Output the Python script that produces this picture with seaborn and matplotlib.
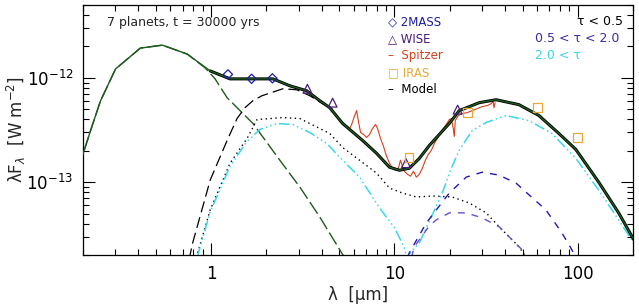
import numpy as np
import pandas as pd
import matplotlib
matplotlib.use("Agg")
import matplotlib.pyplot as plt
import seaborn as sns
from matplotlib.ticker import FixedLocator, FixedFormatter, NullFormatter

# fluxes below are in units of 1e-12 W m^-2
SCALE = 1e-12

# total model
lam_model = [0.19, 0.2014, 0.220, 0.249, 0.301, 0.411, 0.542, 0.741, 0.988, 1.268, 1.630, 2.173,
             2.688, 3.32, 3.91, 4.433, 5.215, 6.699, 7.984, 9.394, 10.64, 12.07, 13.67, 15.50,
             19.90, 22.55, 28.98, 35.84, 47.79, 61.38, 78.8, 97.5, 130.0, 167.0, 196.5, 214.6]
f_model = [0.14, 0.193, 0.313, 0.60, 1.218, 1.93, 2.06, 1.69, 1.166, 0.978, 0.978, 0.978,
           0.839, 0.752, 0.604, 0.518, 0.365, 0.251, 0.189, 0.139, 0.130, 0.136, 0.169, 0.225,
           0.365, 0.485, 0.578, 0.617, 0.553, 0.435, 0.293, 0.206, 0.100, 0.0507, 0.0306, 0.0235]

# stellar photosphere
lam_star = [0.19, 0.2014, 0.220, 0.249, 0.301, 0.411, 0.542, 0.741, 0.928, 1.051, 1.222, 1.438,
            1.691, 2.371, 3.047, 3.91, 5.024, 5.348]
f_star = [0.14, 0.193, 0.313, 0.60, 1.218, 1.93, 2.06, 1.69, 1.245, 0.978, 0.645, 0.485,
          0.365, 0.162, 0.0896, 0.0464, 0.0225, 0.0189]

# tau < 0.5 (long dash) and dotted component
lam_d1 = [0.759, 0.788, 0.988, 1.222, 1.384, 1.530, 1.691, 1.893, 2.462, 2.933, 3.452, 4.061, 4.603]
f_d1 = [0.0181, 0.0251, 0.1045, 0.251, 0.407, 0.518, 0.604, 0.674, 0.786, 0.769, 0.674, 0.565, 0.507]

lam_dot = [0.83, 0.988, 1.268, 1.570, 1.778, 2.462, 3.047, 3.452, 4.433, 5.215, 6.453, 7.984, 9.394,
           11.05, 13.17, 16.09, 20.66, 25.57, 31.62, 38.61, 47.79, 51.5, 52.8]
f_dot = [0.0189, 0.0541, 0.152, 0.262, 0.398, 0.416, 0.407, 0.365, 0.293, 0.215, 0.162, 0.122, 0.0877,
         0.0786, 0.0720, 0.0736, 0.0720, 0.0631, 0.0507, 0.0349, 0.0240, 0.0197, 0.0181]

# 2.0 < tau
lam_cy = [0.839, 0.988, 1.268, 1.570, 1.846, 2.284, 2.791, 3.452, 4.269, 5.215, 6.453, 8.287, 10.0,
          11.33, 11.77, 12.22, 13.67, 16.09, 18.23, 20.42, 22.55, 26.55, 31.62, 40.59, 54.15,
          72.24, 97.5, 130.0, 167.0, 196.5, 214.6]
f_cy = [0.0189, 0.0518, 0.142, 0.246, 0.320, 0.365, 0.357, 0.299, 0.235, 0.162, 0.1116, 0.0566, 0.0365,
        0.0235, 0.0173, 0.0211, 0.0262, 0.0485, 0.0786, 0.136, 0.2017, 0.313, 0.373, 0.435, 0.389,
        0.293, 0.169, 0.0839, 0.0435, 0.0280, 0.0216]

# 0.5 < tau < 2.0
lam_b1 = [11.77, 12.07, 14.93, 19.90, 24.62, 30.09, 37.2, 46.03, 52.8, 66.99, 81.8, 92.7, 96.3]
f_b1 = [0.0189, 0.0211, 0.0407, 0.0786, 0.1116, 0.1245, 0.1167, 0.0978, 0.0786, 0.0541, 0.0327, 0.0225, 0.0197]
lam_b2 = [12.37, 12.84, 15.50, 16.91, 19.90, 24.62, 30.09, 37.2, 43.8, 49.62, 52.14]
f_b2 = [0.0189, 0.0240, 0.0381, 0.0435, 0.0507, 0.0507, 0.0454, 0.0373, 0.0280, 0.0225, 0.0193]

# Spitzer IRS spectrum
lam_irs = [5.215, 5.348, 5.555, 5.693, 5.837, 6.065, 6.215, 6.374, 6.535, 6.785, 7.046, 7.314, 7.593,
           7.884, 8.084, 8.393, 8.715, 9.050, 9.394, 9.752, 10.13, 10.51, 10.78, 11.05, 11.33, 11.77,
           12.22, 12.69, 13.17, 13.67, 14.20, 14.74, 15.30, 15.89, 16.50, 17.13, 17.78, 18.46, 19.17,
           19.90, 20.42, 20.93, 21.19, 21.46, 22.28, 23.42, 24.94, 26.55, 28.26, 30.09, 32.03, 33.66,
           34.51, 34.94, 35.38]
f_irs = [0.373, 0.357, 0.341, 0.327, 0.357, 0.435, 0.485, 0.373, 0.299, 0.2865, 0.268, 0.2865, 0.327,
         0.357, 0.327, 0.262, 0.220, 0.177, 0.152, 0.136, 0.130, 0.136, 0.162, 0.142, 0.127, 0.119,
         0.114, 0.127, 0.1116, 0.119, 0.136, 0.162, 0.185, 0.2017, 0.235, 0.262, 0.293, 0.327, 0.357,
         0.398, 0.407, 0.327, 0.274, 0.389, 0.435, 0.454, 0.464, 0.485, 0.507, 0.530, 0.541, 0.565,
         0.590, 0.518, 0.578]

# photometry
lam_2mass = [1.235, 1.662, 2.159]
f_2mass = [1.08, 0.98, 0.99]
lam_wise = [3.35, 4.6, 11.56, 22.1]
f_wise = [0.786, 0.578, 0.152, 0.496]
lam_iras = [12, 25, 60, 100]
f_iras = [0.173, 0.464, 0.518, 0.268]

xticks = [1, 10, 100]
xtick_labels = ["1", "10", "100"]
yticks = [1e-13, 1e-12]
ytick_labels = ["10$^{-13}$", "10$^{-12}$"]

GREEN = "#1e5a1e"
CYAN = "#38d8e8"
BLUE = "#2418b0"
PURPLE = "#6a50c8"
RED = "#d8401c"
ORANGE = "#e8a838"
C2MASS = "#1c1ca0"
CWISE = "#4a1a78"

sns.set_style("ticks")
plt.rcParams['font.family'] = ['DejaVu Sans']

fig = plt.figure(figsize=(6.39, 3.08), dpi=100)
ax = fig.add_axes([0.1299, 0.1721, 0.8607, 0.8117])
ax.set_xscale("log")
ax.set_yscale("log")


def line(lam, f, color, lw, ls, z=2):
    d = pd.DataFrame({"lam": lam, "f": np.array(f) * SCALE})
    sns.lineplot(data=d, x="lam", y="f", ax=ax, color=color, lw=lw, linestyle=ls,
                 estimator=None, sort=False, zorder=z)


line(lam_star, f_star, GREEN, 1.0, (0, (10, 3)))
line(lam_d1, f_d1, "black", 0.9, (0, (9, 4)))
line(lam_dot, f_dot, "black", 1.0, (0, (1, 2.5)))
line(lam_cy, f_cy, CYAN, 1.1, (0, (7, 2, 1, 2, 1, 2, 1, 2)))
line(lam_b1, f_b1, BLUE, 1.0, (0, (5, 5)))
line(lam_b2, f_b2, PURPLE, 1.0, (0, (5, 5)))
line(lam_irs, f_irs, RED, 0.8, "-", z=3)
m = np.array(lam_model) > 0.93
line(np.array(lam_model)[m], np.array(f_model)[m], "black", 2.2, "-", z=4)
line(lam_model, f_model, GREEN, 1.0, "-", z=5)

sns.scatterplot(x=lam_2mass, y=np.array(f_2mass) * SCALE, ax=ax, marker="D", s=22,
                color=C2MASS, facecolor="none", edgecolor=C2MASS, linewidth=0.9, zorder=6)
sns.scatterplot(x=lam_wise, y=np.array(f_wise) * SCALE, ax=ax, marker="^", s=40,
                color=CWISE, facecolor="none", edgecolor=CWISE, linewidth=0.9, zorder=6)
sns.scatterplot(x=lam_iras, y=np.array(f_iras) * SCALE, ax=ax, marker="s", s=40,
                color=ORANGE, facecolor="none", edgecolor=ORANGE, linewidth=0.9, zorder=6)

ax.set_xlim(0.2, 200)
ax.set_ylim(2e-14, 5e-12)

ax.xaxis.set_major_locator(FixedLocator(xticks))
ax.xaxis.set_major_formatter(FixedFormatter(xtick_labels))
ax.yaxis.set_major_locator(FixedLocator(yticks))
ax.yaxis.set_major_formatter(FixedFormatter(ytick_labels))
ax.xaxis.set_minor_formatter(NullFormatter())
ax.yaxis.set_minor_formatter(NullFormatter())
ax.tick_params(which="both", direction="in", top=True, right=True, width=0.8, colors="black")
ax.tick_params(which="major", length=8.5, labelsize=12, pad=7)
ax.tick_params(which="minor", length=4)
for s in ax.spines.values():
    s.set_linewidth(0.9)
    s.set_color("black")

ax.set_xlabel("λ  [μm]", fontsize=12)
ax.set_ylabel("λF$_λ$  [W m$^{-2}$]", fontsize=12)
ax.xaxis.set_label_coords(0.5, -0.125)
ax.yaxis.set_label_coords(-0.10, 0.5)

ax.text(0.044, 0.928, "7 planets, t = 30000 yrs", transform=ax.transAxes, fontsize=9, va="center")
legend_rows = [("◇ 2MASS", C2MASS), ("△ WISE", CWISE), ("–  Spitzer", RED),
               ("□ IRAS", ORANGE), ("–  Model", "black")]
for i, (txt, c) in enumerate(legend_rows):
    ax.text(0.5545, 0.932 - i * 0.068, txt, transform=ax.transAxes, fontsize=8.5,
            color=c, va="center")
ax.text(0.982, 0.932, "τ < 0.5", transform=ax.transAxes, fontsize=9, color="black",
        va="center", ha="right")
ax.text(0.822, 0.864, "0.5 < τ < 2.0", transform=ax.transAxes, fontsize=9, color="#3a2ea0",
        va="center")
ax.text(0.822, 0.796, "2.0 < τ", transform=ax.transAxes, fontsize=9, color=CYAN, va="center")

fig.savefig("out.png", dpi=100)
